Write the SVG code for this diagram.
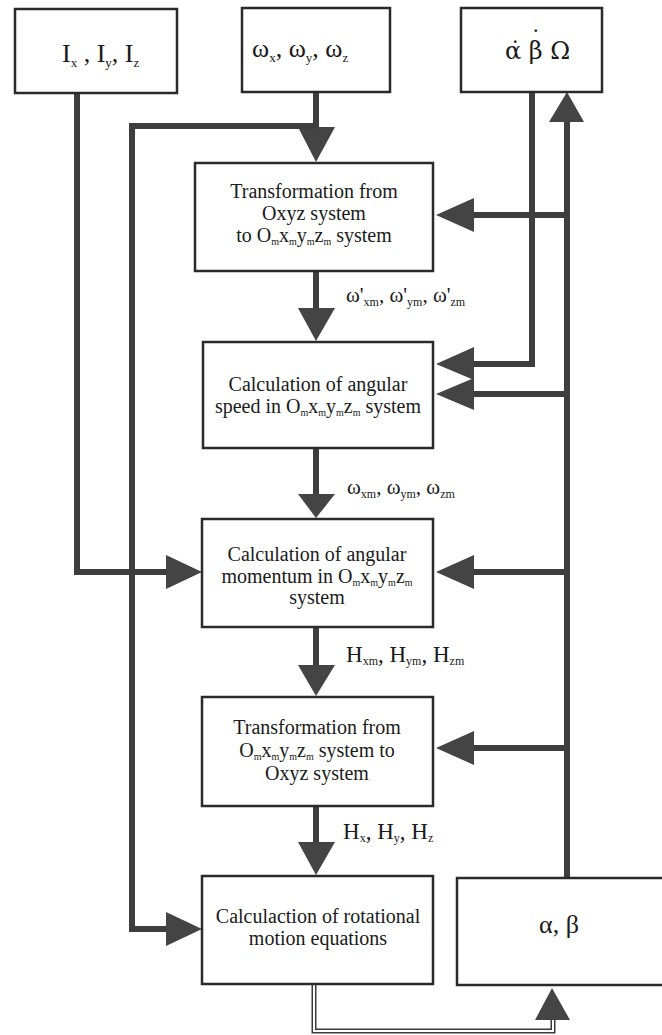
<svg xmlns="http://www.w3.org/2000/svg" width="662" height="1035" viewBox="0 0 662 1035">
<style>
.box{fill:#fff;stroke:#2a2a2a;stroke-width:2.5}
.ln{fill:none;stroke:#3e3e3e;stroke-width:6;stroke-linejoin:miter;stroke-linecap:butt}
.ah{fill:#444;stroke:none}
.t{font-family:"Liberation Serif","Times New Roman",serif;font-size:20px;fill:#1a1a1a;text-anchor:middle}
.big{font-family:"Liberation Serif","Times New Roman",serif;font-size:26px;fill:#1a1a1a}
.lbl{font-family:"Liberation Serif","Times New Roman",serif;font-size:21px;fill:#1a1a1a}
.hl{font-family:"Liberation Serif","Times New Roman",serif;font-size:23px;fill:#1a1a1a}
.s{font-size:10px}
.s2{font-size:12px}
.sb{font-size:13px}
</style>
<rect width="662" height="1035" fill="#fff"/>

<g id="connectors">
  <path class="ln" d="M316,92 V130"/>
  <polygon class="ah" points="298,127 335,127 316,162"/>
  <path class="ln" d="M316,126 H132 V929 H168"/>
  <polygon class="ah" points="166,912 166,946 202,929"/>
  <path class="ln" d="M77,93 V572 H168"/>
  <polygon class="ah" points="166,555 166,589 202,572"/>
  <path class="ln" d="M316,271 V311"/>
  <polygon class="ah" points="298,308 335,308 316,341"/>
  <path class="ln" d="M316,448 V497"/>
  <polygon class="ah" points="298,494 335,494 316,518"/>
  <path class="ln" d="M316,627 V668"/>
  <polygon class="ah" points="298,665 335,665 316,696"/>
  <path class="ln" d="M316,806 V845"/>
  <polygon class="ah" points="298,842 335,842 316,875"/>
  <path d="M314,984 V1031 H553 V1018" fill="none" stroke="#3a3a3a" stroke-width="5"/>
  <path d="M314,984 V1031 H553 V1018" fill="none" stroke="#fff" stroke-width="2"/>
  <polygon class="ah" points="535,1020 570,1020 552,988"/>
  <path class="ln" d="M567,878 V120"/>
  <polygon class="ah" points="549,122 584,122 567,92"/>
  <path class="ln" d="M567,215 H472"/>
  <polygon class="ah" points="474,198 474,232 436,215"/>
  <path class="ln" d="M567,394 H472"/>
  <polygon class="ah" points="474,378 474,410 436,394"/>
  <path class="ln" d="M567,572 H472"/>
  <polygon class="ah" points="474,555 474,589 436,572"/>
  <path class="ln" d="M567,748 H472"/>
  <polygon class="ah" points="474,731 474,765 436,748"/>
  <path class="ln" d="M532,92 V364 H472"/>
  <polygon class="ah" points="474,347 474,380 436,364"/>
</g>

<g id="labels">
  <text class="lbl" x="346" y="302">ω'<tspan class="s2" dy="4">xm</tspan><tspan dy="-4">, ω'</tspan><tspan class="s2" dy="4">ym</tspan><tspan dy="-4">, ω'</tspan><tspan class="s2" dy="4">zm</tspan></text>
  <text class="lbl" x="347" y="494">ω<tspan class="s2" dy="4">xm</tspan><tspan dy="-4">, ω</tspan><tspan class="s2" dy="4">ym</tspan><tspan dy="-4">, ω</tspan><tspan class="s2" dy="4">zm</tspan></text>
  <text class="hl" x="346" y="662">H<tspan class="s2" dy="3">xm</tspan><tspan dy="-3">, H</tspan><tspan class="s2" dy="3">ym</tspan><tspan dy="-3">, H</tspan><tspan class="s2" dy="3">zm</tspan></text>
  <text class="hl" x="343" y="839">H<tspan class="s2" dy="3">x</tspan><tspan dy="-3">, H</tspan><tspan class="s2" dy="3">y</tspan><tspan dy="-3">, H</tspan><tspan class="s2" dy="3">z</tspan></text>
</g>

<g id="node-I">
  <rect class="box" x="15" y="9" width="162" height="84"/>
  <text class="big" x="62" y="62">I<tspan class="sb" dy="5">x</tspan><tspan dy="-5"> , I</tspan><tspan class="sb" dy="5">y</tspan><tspan dy="-5">, I</tspan><tspan class="sb" dy="5">z</tspan></text>
</g>
<g id="node-omega">
  <rect class="box" x="242" y="8" width="148" height="84"/>
  <text class="big" x="252" y="57">ω<tspan class="sb" dy="5">x</tspan><tspan dy="-5">, ω</tspan><tspan class="sb" dy="5">y</tspan><tspan dy="-5">, ω</tspan><tspan class="sb" dy="5">z</tspan></text>
</g>
<g id="node-rates">
  <rect class="box" x="461" y="8" width="141" height="84"/>
  <text x="505" y="59" font-family="'DejaVu Serif',serif" font-size="24" fill="#1a1a1a">α̇ β<tspan dx="-13" dy="-11">˙</tspan><tspan dx="1" dy="11"> Ω</tspan></text>
</g>
<g id="node-transform1">
  <rect class="box" x="195" y="163" width="238" height="108"/>
  <text class="t" x="314" y="198">Transformation from</text>
  <text class="t" x="314" y="220">Oxyz system</text>
  <text class="t" x="314" y="242">to O<tspan class="s" dy="3">m</tspan><tspan dy="-3">x</tspan><tspan class="s" dy="3">m</tspan><tspan dy="-3">y</tspan><tspan class="s" dy="3">m</tspan><tspan dy="-3">z</tspan><tspan class="s" dy="3">m</tspan><tspan dy="-3"> system</tspan></text>
</g>
<g id="node-angspeed">
  <rect class="box" x="203" y="342" width="230" height="106"/>
  <text class="t" x="318" y="391">Calculation of angular</text>
  <text class="t" x="318" y="413">speed in O<tspan class="s" dy="3">m</tspan><tspan dy="-3">x</tspan><tspan class="s" dy="3">m</tspan><tspan dy="-3">y</tspan><tspan class="s" dy="3">m</tspan><tspan dy="-3">z</tspan><tspan class="s" dy="3">m</tspan><tspan dy="-3"> system</tspan></text>
</g>
<g id="node-angmom">
  <rect class="box" x="202" y="519" width="231" height="108"/>
  <text class="t" x="317" y="561">Calculation of angular</text>
  <text class="t" x="317" y="583">momentum in O<tspan class="s" dy="3">m</tspan><tspan dy="-3">x</tspan><tspan class="s" dy="3">m</tspan><tspan dy="-3">y</tspan><tspan class="s" dy="3">m</tspan><tspan dy="-3">z</tspan><tspan class="s" dy="3">m</tspan></text>
  <text class="t" x="317" y="604">system</text>
</g>
<g id="node-transform2">
  <rect class="box" x="202" y="697" width="231" height="109"/>
  <text class="t" x="317" y="734">Transformation from</text>
  <text class="t" x="317" y="757">O<tspan class="s" dy="3">m</tspan><tspan dy="-3">x</tspan><tspan class="s" dy="3">m</tspan><tspan dy="-3">y</tspan><tspan class="s" dy="3">m</tspan><tspan dy="-3">z</tspan><tspan class="s" dy="3">m</tspan><tspan dy="-3"> system to</tspan></text>
  <text class="t" x="317" y="780">Oxyz system</text>
</g>
<g id="node-rotmotion">
  <rect class="box" x="202" y="876" width="231" height="108"/>
  <text class="t" x="318" y="923">Calculaction of rotational</text>
  <text class="t" x="318" y="945">motion equations</text>
</g>
<g id="node-alphabeta">
  <rect class="box" x="457" y="878" width="215" height="107"/>
  <text class="big" x="559" y="933" text-anchor="middle">α, β</text>
</g>
</svg>
